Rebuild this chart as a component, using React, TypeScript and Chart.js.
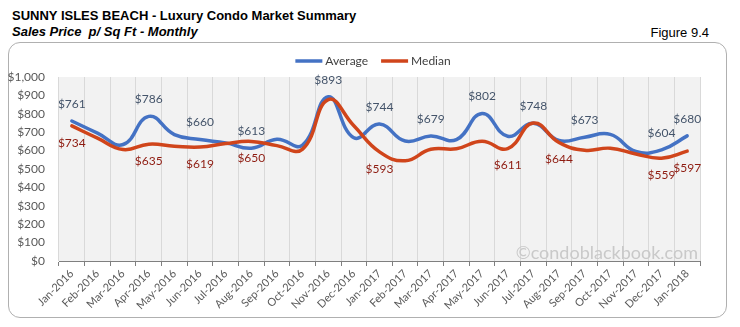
import React, { useEffect, useRef } from 'react';
import { Chart, registerables } from 'chart.js';

Chart.register(...registerables);

const months = [
  'Jan-2016', 'Feb-2016', 'Mar-2016', 'Apr-2016', 'May-2016', 'Jun-2016', 'Jul-2016', 'Aug-2016',
  'Sep-2016', 'Oct-2016', 'Nov-2016', 'Dec-2016', 'Jan-2017', 'Feb-2017', 'Mar-2017', 'Apr-2017',
  'May-2017', 'Jun-2017', 'Jul-2017', 'Aug-2017', 'Sep-2017', 'Oct-2017', 'Nov-2017', 'Dec-2017', 'Jan-2018',
];
const averageValues = [761, 695, 633, 786, 687, 660, 642, 613, 662, 630, 893, 670, 744, 652, 679, 660, 802, 678, 748, 655, 673, 688, 595, 604, 680];
const medianValues = [734, 668, 606, 635, 624, 619, 638, 650, 627, 608, 877, 735, 593, 545, 607, 610, 651, 611, 750, 644, 602, 613, 582, 559, 597];
const averageLabelIdx = [0, 3, 5, 7, 10, 12, 14, 16, 18, 20, 23, 24];
const medianLabelIdx = [0, 3, 5, 7, 12, 17, 19, 23, 24];
const seriesNames = ['Average', 'Median'];

const BLUE = '#4472C4';
const RED = '#D0451B';
const AVG_TEXT = '#44546A';
const MED_TEXT = '#8E1B10';
const FONT = 'Lato';

const overlay = {
  id: 'overlay',
  beforeDraw(chart: any) {
    const { ctx, chartArea: a } = chart;
    ctx.save();
    ctx.fillStyle = '#f2f2f2';
    ctx.fillRect(a.left, a.top, a.right - a.left, a.bottom - a.top);
    ctx.restore();
  },
  afterDatasetsDraw(chart: any) {
    const { ctx, chartArea: a } = chart;
    ctx.save();
    // watermark
    ctx.font = `18px ${FONT}`;
    ctx.fillStyle = '#c9c9c9';
    ctx.textAlign = 'right';
    ctx.textBaseline = 'bottom';
    ctx.fillText('\u00A9condoblackbook.com', a.right - 2, a.bottom + 1);
    // data labels
    ctx.font = `12px ${FONT}`;
    ctx.textAlign = 'center';
    ctx.textBaseline = 'middle';
    const draw = (dsIndex: number, idxs: number[], color: string, dy: number) => {
      const meta = chart.getDatasetMeta(dsIndex);
      const vals = chart.data.datasets[dsIndex].data as number[];
      ctx.fillStyle = color;
      idxs.forEach((i) => {
        const p = meta.data[i];
        ctx.fillText('$' + vals[i], p.x, p.y + dy);
      });
    };
    draw(0, averageLabelIdx, AVG_TEXT, -17);
    draw(1, medianLabelIdx, MED_TEXT, 17);
    ctx.restore();
  },
  afterDraw(chart: any) {
    const { ctx } = chart;
    ctx.save();
    ctx.font = `12px ${FONT}`;
    ctx.textBaseline = 'middle';
    ctx.textAlign = 'left';
    const lineLen = 27;
    const gap = 3;
    const itemGap = 13;
    const colors = [BLUE, RED];
    const widths = seriesNames.map((n) => lineLen + gap + ctx.measureText(n).width);
    const total = widths[0] + widths[1] + itemGap;
    let x = chart.width / 2 + 3 - total / 2;
    const y = 61;
    seriesNames.forEach((n, i) => {
      ctx.strokeStyle = colors[i];
      ctx.lineWidth = 3.5;
      ctx.beginPath();
      ctx.moveTo(x, y);
      ctx.lineTo(x + lineLen, y);
      ctx.stroke();
      ctx.fillStyle = '#404040';
      ctx.fillText(n, x + lineLen + gap, y);
      x += widths[i] + itemGap;
    });
    ctx.restore();
  },
};

export default function App() {
  const ref = useRef<HTMLCanvasElement>(null);
  useEffect(() => {
    const chart = new Chart(ref.current as HTMLCanvasElement, {
      type: 'line',
      data: {
        labels: months,
        datasets: [
          { label: seriesNames[0], data: averageValues, borderColor: BLUE, backgroundColor: BLUE, borderWidth: 3.5, tension: 0.45, pointRadius: 0, fill: false, order: 1, borderCapStyle: 'round', borderJoinStyle: 'round' },
          { label: seriesNames[1], data: medianValues, borderColor: RED, backgroundColor: RED, borderWidth: 3.5, tension: 0.45, pointRadius: 0, fill: false, order: 0, borderCapStyle: 'round', borderJoinStyle: 'round' },
        ],
      },
      options: {
        responsive: false,
        animation: false,
        devicePixelRatio: 1,
        layout: { padding: { top: 77, right: 40, left: 0, bottom: 0 } },
        plugins: { legend: { display: false }, tooltip: { enabled: false } },
        scales: {
          x: {
            offset: true,
            grid: { offset: true, color: '#d9d9d9', tickColor: '#7f7f7f', tickLength: 5, drawTicks: true },
            border: { color: '#7f7f7f', width: 1 },
            ticks: { autoSkip: false, maxRotation: 45, minRotation: 45, color: '#595959', font: { family: FONT, size: 11 }, padding: 1 },
            afterFit: (s: any) => { s.height = 66; },
          },
          y: {
            min: 0,
            max: 1000,
            ticks: {
              stepSize: 100,
              autoSkip: false,
              color: '#595959',
              font: { family: FONT, size: 12 },
              padding: 14,
              callback: (v: any) => '$' + Number(v).toLocaleString('en-US'),
            },
            grid: { display: false, drawTicks: false },
            border: { display: false },
            afterFit: (s: any) => { s.width = 59; },
          },
        },
      },
      plugins: [overlay],
    } as any);
    return () => chart.destroy();
  }, []);

  return (
    <div style={{ position: 'absolute', left: 0, top: 0, width: 740, height: 327, background: '#fff', overflow: 'hidden' }}>
      <div style={{ position: 'absolute', left: 12, top: 8, font: 'bold 13px "Liberation Sans", Arial, sans-serif', lineHeight: '15px', color: '#000', whiteSpace: 'pre' }}>
        SUNNY ISLES BEACH - Luxury Condo Market Summary
      </div>
      <div style={{ position: 'absolute', left: 12, top: 24, font: 'italic bold 13px "Liberation Sans", Arial, sans-serif', lineHeight: '15px', color: '#000', whiteSpace: 'pre' }}>
        {'Sales Price  p/ Sq Ft - Monthly'}
      </div>
      <div style={{ position: 'absolute', right: 31, top: 25, font: '13px "Liberation Sans", Arial, sans-serif', lineHeight: '15px', color: '#000' }}>
        Figure 9.4
      </div>
      <div style={{ position: 'absolute', left: 8, top: 42, width: 719, height: 276, border: '1px solid #b0b0b0', borderRadius: 12, boxSizing: 'border-box' }} />
      <canvas ref={ref} width={740} height={327} style={{ position: 'absolute', left: 0, top: 0, width: 740, height: 327 }} />
    </div>
  );
}
